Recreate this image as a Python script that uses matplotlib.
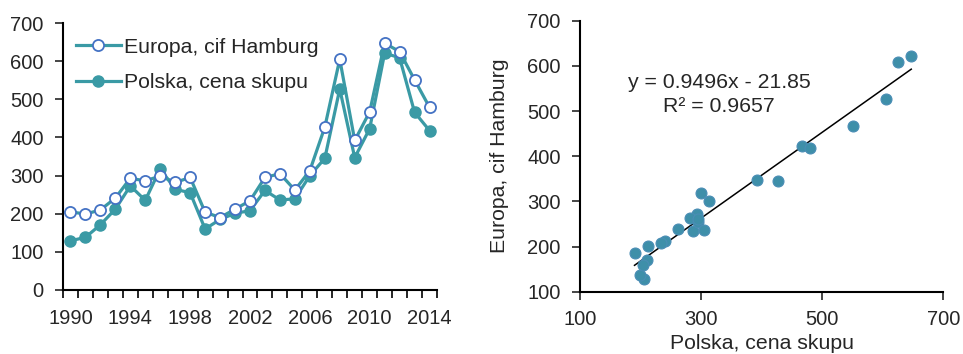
import matplotlib
matplotlib.use("Agg")
import matplotlib.pyplot as plt
import numpy as np

plt.rcParams["font.family"] = ["Liberation Sans", "DejaVu Sans"]

years = list(range(1990, 2015))
europa = [205, 199, 210, 241, 293, 286, 299, 282, 295, 204, 190, 212, 234, 295, 305,
          262, 313, 427, 605, 392, 467, 647, 625, 551, 479]
polska = [129, 138, 171, 212, 273, 235, 318, 264, 255, 160, 185, 201, 208, 261, 236,
          239, 300, 345, 527, 347, 423, 621, 609, 466, 418]

label_eu = "Europa, cif Hamburg"
label_pl = "Polska, cena skupu"
eq_text = "y = 0.9496x - 21.85"
r2_text = "R² = 0.9657"

TEAL = "#3A9AA5"
BLUE = "#4472C4"
TXT = "#262626"
FS = 14.5     # tick labels
FS_L = 15.3   # legend, axis labels, equation

fig = plt.figure(figsize=(9.63, 3.54), dpi=100)

# left: time series
ax1 = fig.add_axes([0.0654, 0.1808, 0.3884, 0.7542])
ax1.plot(years, europa, color=TEAL, lw=2.3, marker="o", ms=8,
         mfc="white", mec=BLUE, mew=1.3, label=label_eu, zorder=3)
ax1.plot(years, polska, color=TEAL, lw=2.3, marker="o", ms=8,
         mfc=TEAL, mec=TEAL, label=label_pl, zorder=2)
ax1.set_xlim(1989.5, 2014.5)
ax1.set_ylim(0, 700)
ax1.set_yticks(range(0, 701, 100))
ax1.set_xticks(range(1990, 2015, 4))
ax1.set_xticks(np.arange(1989.5, 2015, 1), minor=True)
ax1.tick_params(axis="x", which="major", length=0, labelsize=FS, colors=TXT, pad=14)
ax1.tick_params(axis="x", which="minor", length=6, width=1.2, color="black")
ax1.tick_params(axis="y", length=6, width=1.2, labelsize=FS, colors=TXT, pad=8)
for t in ax1.get_yticklines():
    t.set_color("black")
for s in ["top", "right"]:
    ax1.spines[s].set_visible(False)
for s in ["left", "bottom"]:
    ax1.spines[s].set_linewidth(1.5)
leg = ax1.legend(loc="upper left", bbox_to_anchor=(0.035, 0.945), frameon=False,
                 fontsize=FS_L, handlelength=2.1, handletextpad=0.15,
                 labelspacing=0.78, borderpad=0, borderaxespad=0)
for t in leg.get_texts():
    t.set_color(TXT)

# right: scatter with linear trend
ax2 = fig.add_axes([0.6023, 0.176, 0.3773, 0.7655])
x = np.array(europa, dtype=float)
y = np.array(polska, dtype=float)
ax2.scatter(x, y, s=62, color="#3E8FA9", edgecolors="#4A8DB5", linewidths=0.8, zorder=3)
k, b = np.polyfit(x, y, 1)
xs = np.array([x.min(), x.max()])
ax2.plot(xs, k * xs + b, color="black", lw=1.1, zorder=2)
ax2.set_xlim(100, 700)
ax2.set_ylim(100, 700)
ax2.set_xticks([100, 300, 500, 700])
ax2.set_yticks(range(100, 701, 100))
ax2.tick_params(axis="x", length=6, width=1.2, labelsize=FS, colors=TXT, pad=7)
ax2.tick_params(axis="y", length=6, width=1.2, labelsize=FS, colors=TXT, pad=8)
for t in ax2.get_xticklines() + ax2.get_yticklines():
    t.set_color("black")
for s in ["top", "right"]:
    ax2.spines[s].set_visible(False)
for s in ["left", "bottom"]:
    ax2.spines[s].set_linewidth(1.5)
ax2.set_xlabel(label_pl, fontsize=FS_L, color=TXT, labelpad=4)
ax2.set_ylabel(label_eu, fontsize=FS_L, color=TXT, labelpad=13)
ax2.text(0.383, 0.772, eq_text, transform=ax2.transAxes, ha="center", va="center",
         fontsize=FS_L, color=TXT)
ax2.text(0.383, 0.685, r2_text, transform=ax2.transAxes, ha="center", va="center",
         fontsize=FS_L, color=TXT)

fig.savefig("out.png", dpi=100)
